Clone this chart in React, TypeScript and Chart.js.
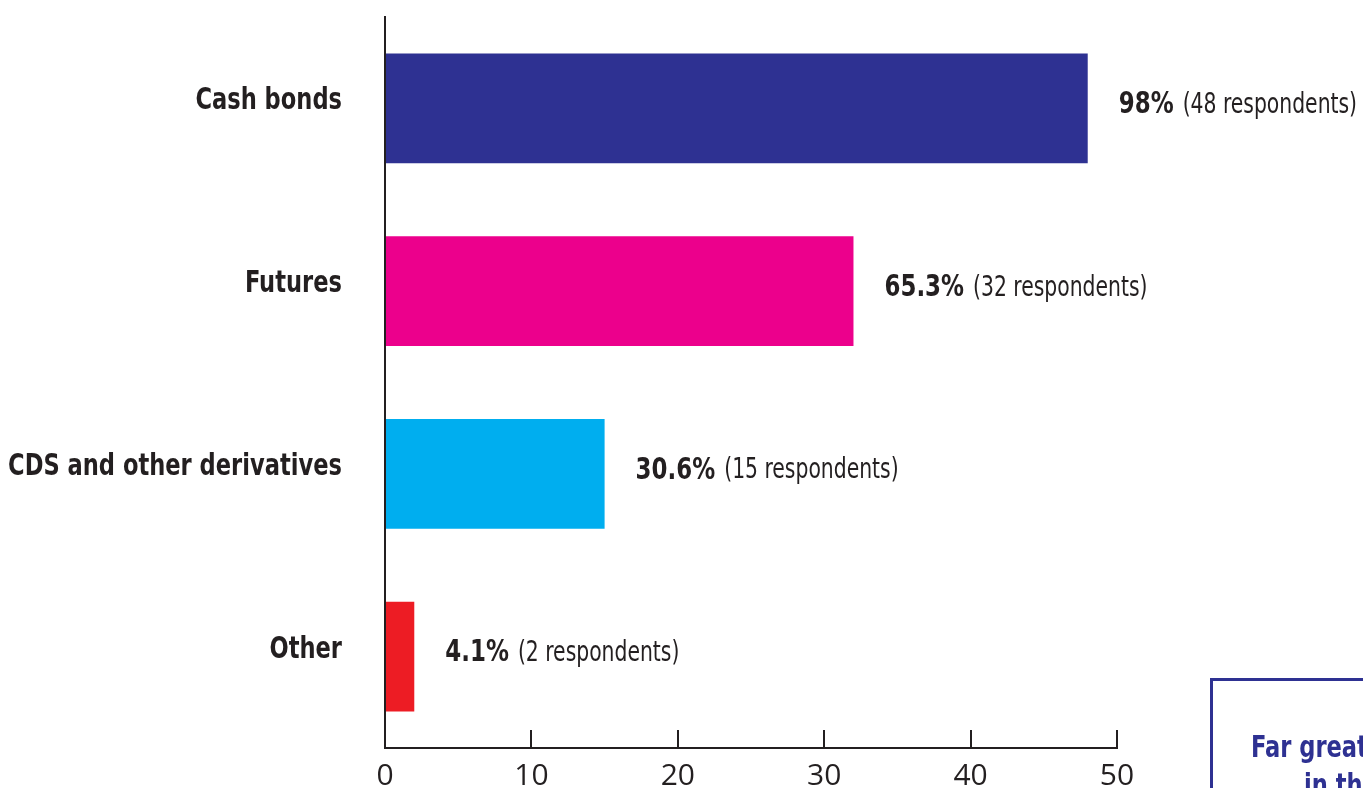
import React, { useEffect, useRef } from "react";
import { Chart, registerables } from "chart.js";

Chart.register(...registerables);

const categories = ["Cash bonds", "Futures", "CDS and other derivatives", "Other"];
const respondents = [48, 32, 15, 2];
const percentLabels = ["98%", "65.3%", "30.6%", "4.1%"];
const barColors = ["#2e3192", "#ec008c", "#00aeef", "#ed1c24"];
const xTicks = [0, 10, 20, 30, 40, 50];

const NARROW = "'DejaVu Sans Condensed', 'DejaVu Sans', sans-serif";
const TEXT = "#231f20";

function drawNarrow(
  ctx: CanvasRenderingContext2D,
  text: string,
  x: number,
  y: number,
  font: string,
  sx: number,
  align: CanvasTextAlign
): number {
  ctx.save();
  ctx.font = font;
  ctx.textAlign = align;
  ctx.textBaseline = "middle";
  ctx.translate(x, y);
  ctx.scale(sx, 1);
  ctx.fillText(text, 0, 0);
  const w = ctx.measureText(text).width * sx;
  ctx.restore();
  return w;
}

const narrowTextPlugin = {
  id: "narrowText",
  afterDraw(chart: any) {
    const ctx = chart.ctx;
    const yScale = chart.scales.y;
    ctx.save();
    ctx.fillStyle = TEXT;
    // category labels, positioned by the y scale
    const labels = chart.data.labels as string[];
    labels.forEach((label, i) => {
      const y = yScale.getPixelForTick(i) - 7;
      drawNarrow(ctx, label, yScale.right - 43, y, `bold 31px ${NARROW}`, 0.81, "right");
    });
    // value labels at bar ends
    const meta = chart.getDatasetMeta(0);
    meta.data.forEach((bar: any, i: number) => {
      const x = bar.x + 31;
      const y = bar.y - 3;
      const w = drawNarrow(ctx, percentLabels[i], x, y, `bold 30px ${NARROW}`, 0.85, "left");
      drawNarrow(ctx, `(${respondents[i]} respondents)`, x + w + 9, y, `29px ${NARROW}`, 0.78, "left");
    });
    ctx.restore();
  },
};

export default function App() {
  const ref = useRef<HTMLCanvasElement>(null);
  useEffect(() => {
    if (!ref.current) return;
    const chart = new Chart(ref.current, {
      type: "bar",
      data: {
        labels: categories,
        datasets: [
          {
            data: respondents,
            backgroundColor: barColors,
            borderWidth: 0,
            barPercentage: 0.6,
            categoryPercentage: 1,
          },
        ],
      },
      options: {
        indexAxis: "y",
        animation: false,
        responsive: true,
        maintainAspectRatio: false,
        layout: { padding: { top: 17, right: 246, left: 0, bottom: 0 } },
        plugins: { legend: { display: false }, tooltip: { enabled: false } },
        scales: {
          x: {
            min: 0,
            max: 50,
            afterBuildTicks: (scale: any) => {
              scale.ticks = xTicks.map((v) => ({ value: v }));
            },
            afterFit: (scale: any) => {
              scale.height = 40;
            },
            grid: {
              drawOnChartArea: false,
              drawTicks: true,
              tickLength: -18,
              tickColor: TEXT,
              tickWidth: 2,
              color: TEXT,
              lineWidth: 2,
            },
            border: { display: true, color: TEXT, width: 2 },
            ticks: {
              color: TEXT,
              padding: 28,
              font: { family: "'Open Sans', 'Noto Sans', sans-serif", size: 30 },
            },
          },
          y: {
            afterFit: (scale: any) => {
              scale.width = 385;
              scale.paddingTop = 0;
              scale.paddingBottom = 0;
            },
            grid: { display: false, drawTicks: false },
            border: { display: true, color: TEXT, width: 2 },
            ticks: { display: false },
          },
        },
      },
      plugins: [narrowTextPlugin],
    } as any);
    return () => chart.destroy();
  }, []);

  const boxText: React.CSSProperties = {
    position: "absolute",
    color: "#2e3192",
    fontFamily: NARROW,
    fontWeight: "bold",
    fontSize: 31,
    lineHeight: "38px",
    whiteSpace: "nowrap",
    transform: "scaleX(0.81)",
    transformOrigin: "left center",
  };

  return (
    <div
      style={{
        position: "fixed",
        left: 0,
        top: 0,
        width: 1363,
        height: 788,
        overflow: "hidden",
        background: "#fff",
      }}
    >
      <canvas ref={ref} style={{ position: "absolute", left: 0, top: 0, width: 1363, height: 788 }} />
      <div
        style={{
          position: "absolute",
          left: 1210,
          top: 678,
          width: 420,
          height: 300,
          border: "3px solid #2e3192",
          boxSizing: "border-box",
        }}
      />
      <div style={{ ...boxText, left: 1251, top: 727 }}>Far greater</div>
      <div style={{ ...boxText, left: 1304, top: 765 }}>in the</div>
    </div>
  );
}
